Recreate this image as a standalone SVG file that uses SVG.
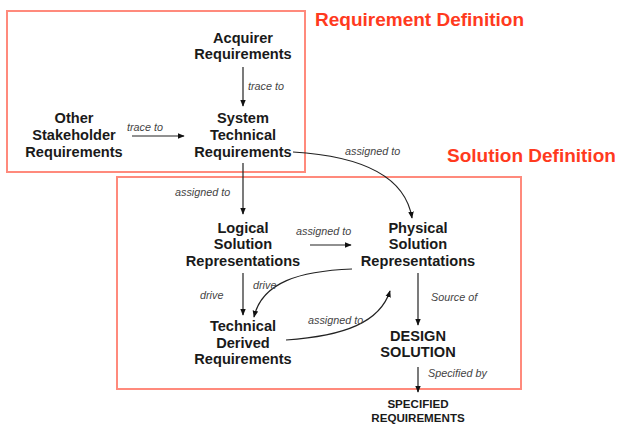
<svg xmlns="http://www.w3.org/2000/svg" width="620" height="424" viewBox="0 0 620 424">
<defs>
<marker id="ah" viewBox="0 0 10 10" refX="9" refY="5" markerWidth="7" markerHeight="7" orient="auto" markerUnits="userSpaceOnUse">
<path d="M0,1 L10,5 L0,9 z" fill="#111"/>
</marker>
<style>
.frame{fill:none;stroke:#ff8a7c;stroke-width:2}
.title{font-family:"Liberation Sans",Arial,sans-serif;font-weight:bold;font-size:19px;fill:#ff3a1e}
.node{font-family:"Liberation Sans",Arial,sans-serif;font-weight:bold;font-size:14.6px;fill:#1a1a1a;text-anchor:middle}
.small{font-family:"Liberation Sans",Arial,sans-serif;font-weight:bold;font-size:11.6px;fill:#1a1a1a;text-anchor:middle}
.lbl{font-family:"Liberation Sans",Arial,sans-serif;font-style:italic;font-size:10.8px;fill:#444}
.conn{fill:none;stroke:#222;stroke-width:1.2;marker-end:url(#ah)}
</style>
</defs>
<rect width="620" height="424" fill="#fff"/>
<g id="requirement-definition">
<rect class="frame" x="7" y="11" width="298" height="161"/>
<text class="title" x="315" y="26">Requirement Definition</text>
</g>
<g id="solution-definition">
<rect class="frame" x="117" y="177" width="404" height="212"/>
<text class="title" x="447" y="162">Solution Definition</text>
</g>
<g id="connectors">
<line class="conn" x1="243" y1="67" x2="243" y2="106"/>
<text class="lbl" x="248" y="90">trace to</text>
<line class="conn" x1="132" y1="136" x2="184" y2="136"/>
<text class="lbl" x="127" y="131">trace to</text>
<path class="conn" d="M293,152 C360,156 405,175 412,218"/>
<text class="lbl" x="345" y="155">assigned to</text>
<line class="conn" x1="243" y1="163" x2="243" y2="214"/>
<text class="lbl" x="175" y="196">assigned to</text>
<line class="conn" x1="310" y1="245" x2="351" y2="245"/>
<text class="lbl" x="296" y="235">assigned to</text>
<line class="conn" x1="243" y1="273" x2="243" y2="315"/>
<text class="lbl" x="200" y="299">drive</text>
<path class="conn" d="M352,269 C300,271 262,282 254,317"/>
<text class="lbl" x="253" y="289">drive</text>
<path class="conn" d="M286,340 C345,336 380,322 390,291"/>
<text class="lbl" x="308" y="324">assigned to</text>
<line class="conn" x1="418" y1="273" x2="418" y2="325"/>
<text class="lbl" x="431" y="301">Source of</text>
<line class="conn" x1="418" y1="367" x2="418" y2="392"/>
<text class="lbl" x="428" y="377">Specified by</text>
</g>
<g id="acquirer-requirements">
<text class="node" x="243" y="43">Acquirer</text>
<text class="node" x="243" y="59">Requirements</text>
</g>
<g id="other-stakeholder-requirements">
<text class="node" x="74" y="123">Other</text>
<text class="node" x="74" y="140">Stakeholder</text>
<text class="node" x="74" y="157">Requirements</text>
</g>
<g id="system-technical-requirements">
<text class="node" x="243" y="123">System</text>
<text class="node" x="243" y="140">Technical</text>
<text class="node" x="243" y="157">Requirements</text>
</g>
<g id="logical-solution-representations">
<text class="node" x="243" y="233">Logical</text>
<text class="node" x="243" y="249">Solution</text>
<text class="node" x="243" y="266">Representations</text>
</g>
<g id="physical-solution-representations">
<text class="node" x="418" y="233">Physical</text>
<text class="node" x="418" y="249">Solution</text>
<text class="node" x="418" y="266">Representations</text>
</g>
<g id="technical-derived-requirements">
<text class="node" x="243" y="331">Technical</text>
<text class="node" x="243" y="348">Derived</text>
<text class="node" x="243" y="364">Requirements</text>
</g>
<g id="design-solution">
<text class="node" x="418" y="341">DESIGN</text>
<text class="node" x="418" y="357">SOLUTION</text>
</g>
<g id="specified-requirements">
<text class="small" x="418" y="408">SPECIFIED</text>
<text class="small" x="418" y="422">REQUIREMENTS</text>
</g>
</svg>
